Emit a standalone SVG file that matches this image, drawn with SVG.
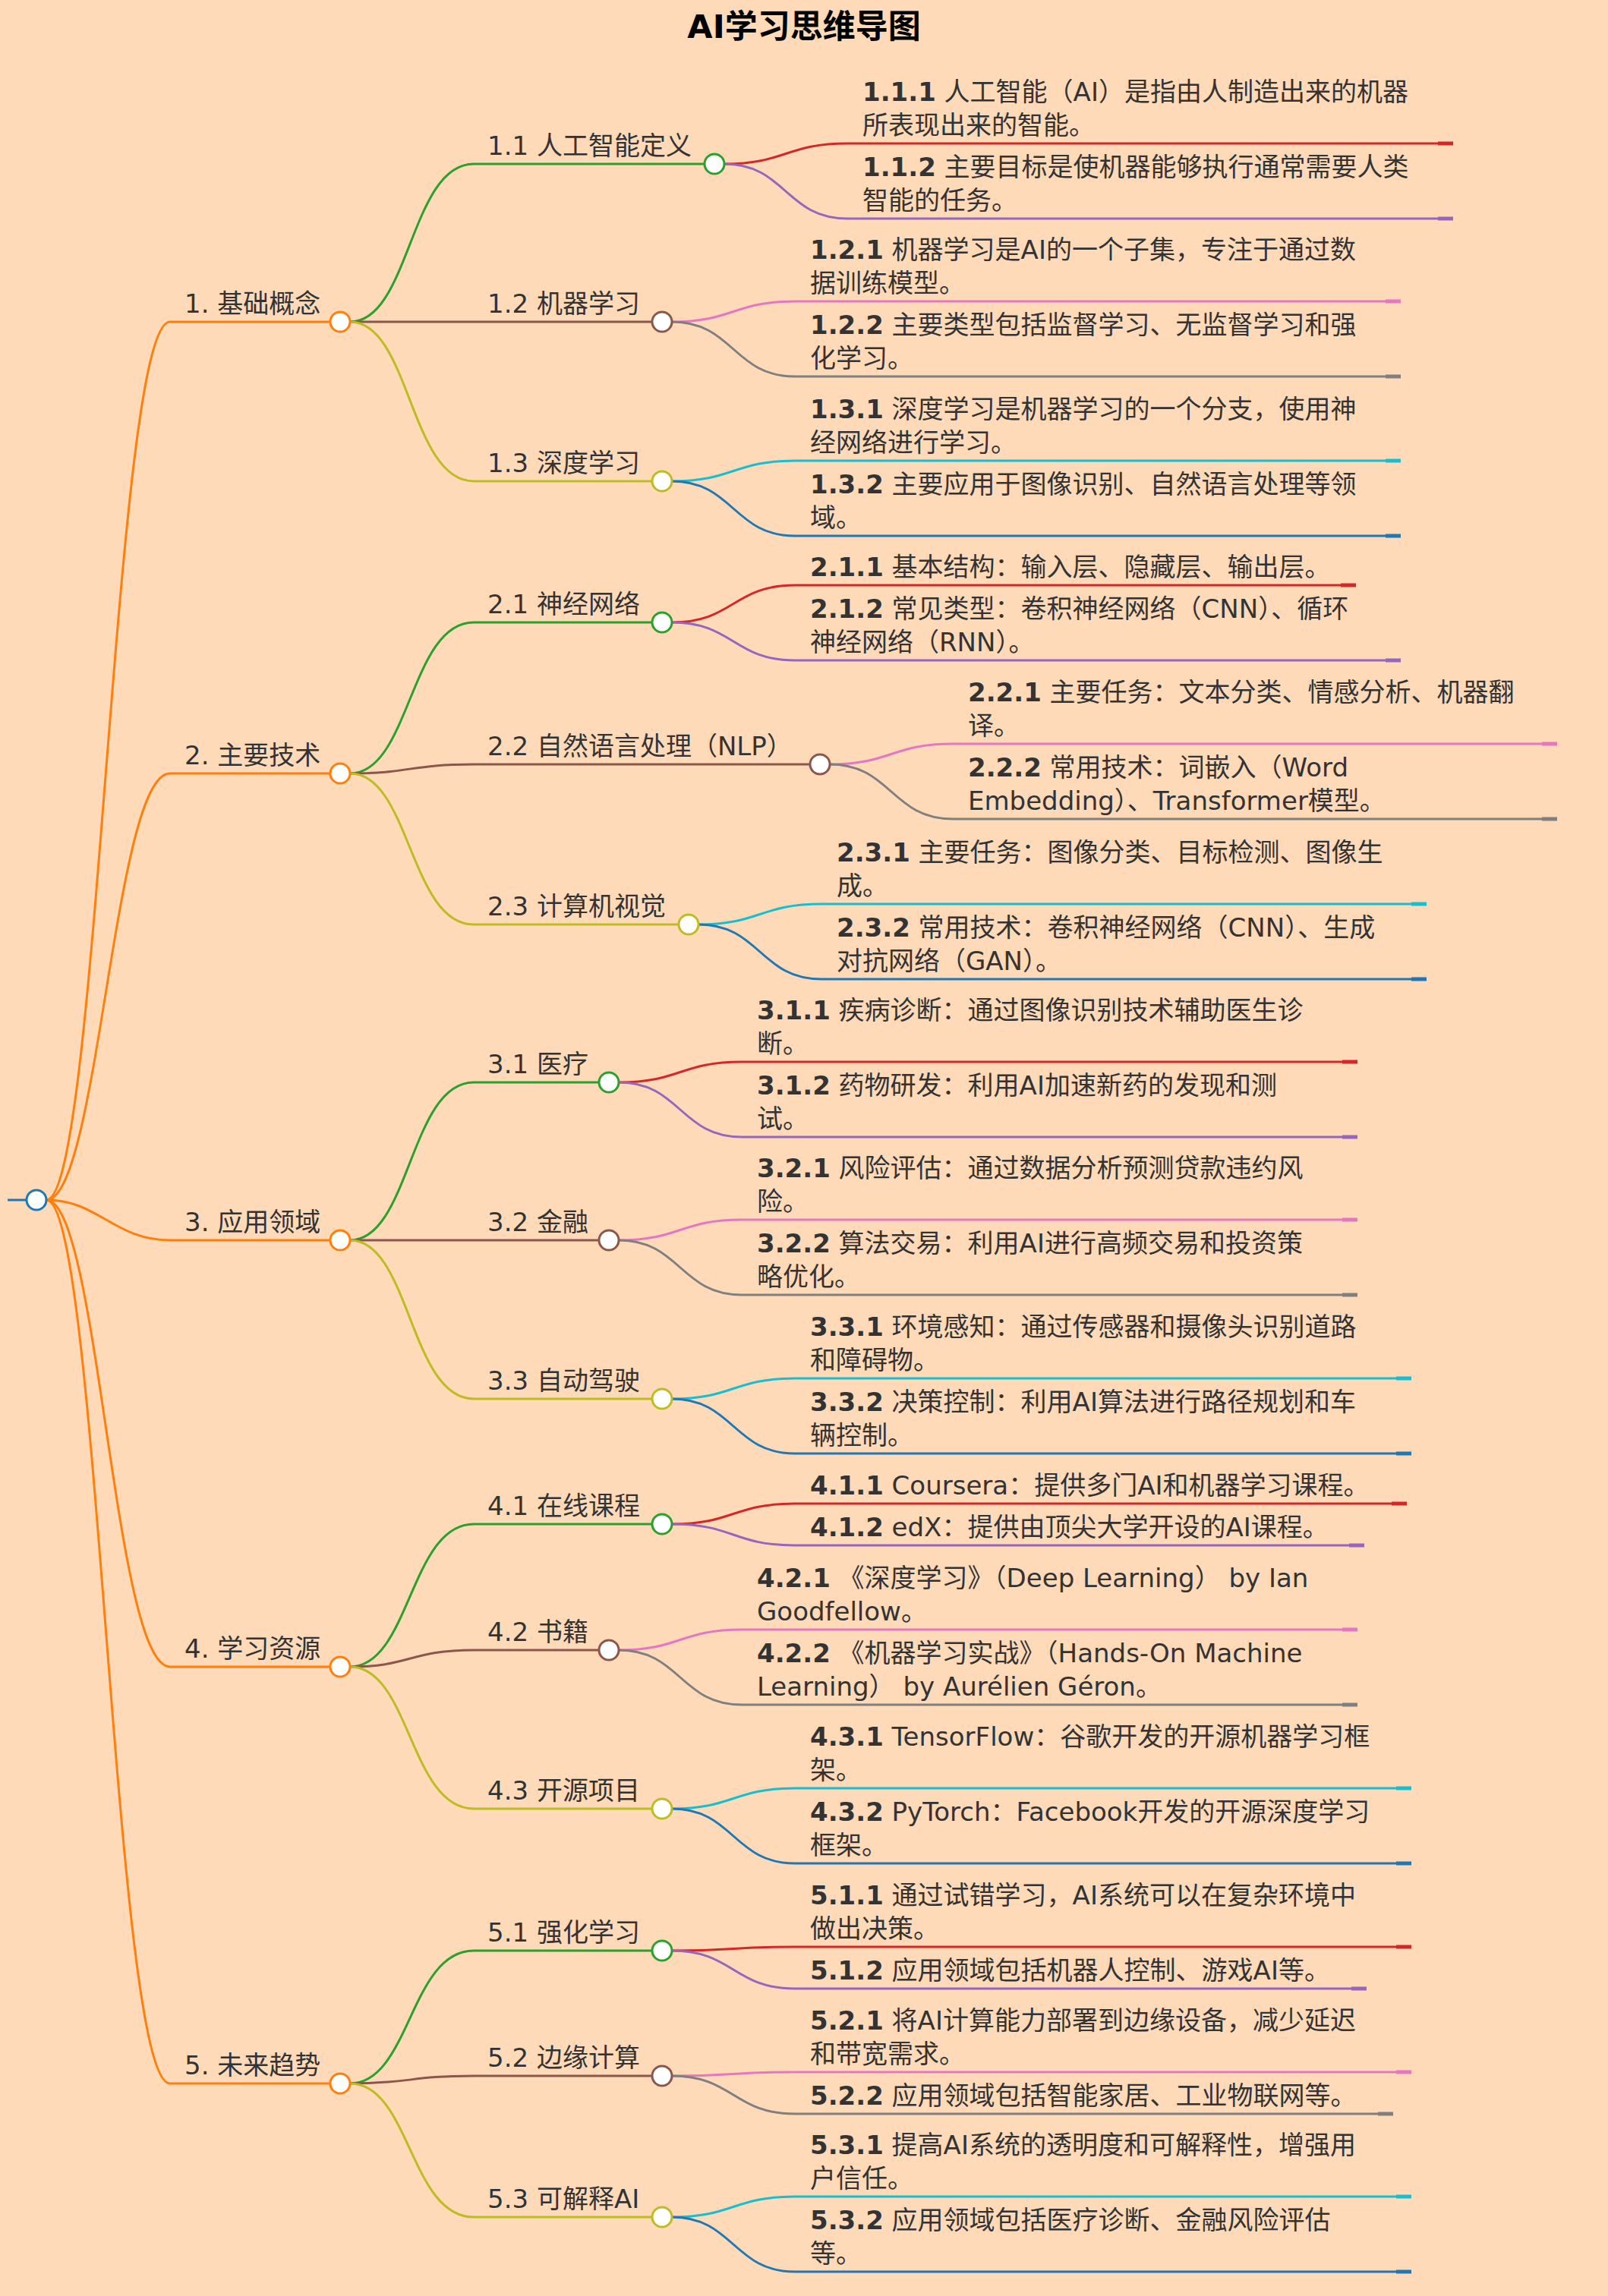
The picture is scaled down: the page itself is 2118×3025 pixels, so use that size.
<svg xmlns="http://www.w3.org/2000/svg" width="2118" height="3025" viewBox="0 0 2118 3025">
<style>
text{font-family:"DejaVu Sans","Noto Sans CJK SC",sans-serif;fill:#333;font-size:34px}
.b{font-weight:bold}
.t{font-size:43px;font-weight:bold;fill:#000}
path,line{fill:none;stroke-width:3}
circle{fill:#fff;stroke-width:3}
.e{stroke-width:5}
.or{stroke:#ff7f0e}.gr{stroke:#2ca02c}.br{stroke:#8c564b}.ol{stroke:#bcbd22}
.rd{stroke:#d62728}.pu{stroke:#9467bd}.pk{stroke:#e377c2}.gy{stroke:#7f7f7f}.cy{stroke:#17becf}.bl{stroke:#1f77b4}
</style>
<rect width="2118" height="3025" fill="#ffdab9"/>
<text class="t" x="1059" y="50" text-anchor="middle">AI学习思维导图</text>
<g id="connectors">
<line class="bl" x1="10" y1="1581" x2="35" y2="1581"/>
<path class="or" d="M61,1581 C130,1581 150,424 224,424 L435,424"/>
<path class="or" d="M61,1581 C130,1581 150,1019 224,1019 L435,1019"/>
<path class="or" d="M61,1581 C130,1581 150,1634 224,1634 L435,1634"/>
<path class="or" d="M61,1581 C130,1581 150,2196 224,2196 L435,2196"/>
<path class="or" d="M61,1581 C130,1581 150,2745 224,2745 L435,2745"/>
<path class="gr" d="M461,424 C540,424 540,216 624,216 L928,216"/>
<path class="br" d="M461,424 C540,424 540,424 624,424 L859,424"/>
<path class="ol" d="M461,424 C540,424 540,634 624,634 L859,634"/>
<path class="gr" d="M461,1019 C540,1019 540,820 624,820 L859,820"/>
<path class="br" d="M461,1019 C540,1019 540,1007 624,1007 L1067,1007"/>
<path class="ol" d="M461,1019 C540,1019 540,1218 624,1218 L894,1218"/>
<path class="gr" d="M461,1634 C540,1634 540,1426 624,1426 L789,1426"/>
<path class="br" d="M461,1634 C540,1634 540,1634 624,1634 L789,1634"/>
<path class="ol" d="M461,1634 C540,1634 540,1843 624,1843 L859,1843"/>
<path class="gr" d="M461,2196 C540,2196 540,2008 624,2008 L859,2008"/>
<path class="br" d="M461,2196 C540,2196 540,2174 624,2174 L789,2174"/>
<path class="ol" d="M461,2196 C540,2196 540,2383 624,2383 L859,2383"/>
<path class="gr" d="M461,2745 C540,2745 540,2570 624,2570 L859,2570"/>
<path class="br" d="M461,2745 C540,2745 540,2735 624,2735 L859,2735"/>
<path class="ol" d="M461,2745 C540,2745 540,2921 624,2921 L859,2921"/>
<!-- level3 -->
<path class="rd" d="M954,216 C1035,216 1035,189 1116,189 L1914,189"/><line class="rd e" x1="1894" y1="189" x2="1914" y2="189"/>
<path class="pu" d="M954,216 C1035,216 1035,288 1116,288 L1914,288"/><line class="pu e" x1="1894" y1="288" x2="1914" y2="288"/>
<path class="pk" d="M885,424 C966,424 966,397 1047,397 L1845,397"/><line class="pk e" x1="1825" y1="397" x2="1845" y2="397"/>
<path class="gy" d="M885,424 C966,424 966,496 1047,496 L1845,496"/><line class="gy e" x1="1825" y1="496" x2="1845" y2="496"/>
<path class="cy" d="M885,634 C966,634 966,607 1047,607 L1845,607"/><line class="cy e" x1="1825" y1="607" x2="1845" y2="607"/>
<path class="bl" d="M885,634 C966,634 966,706 1047,706 L1845,706"/><line class="bl e" x1="1825" y1="706" x2="1845" y2="706"/>
<path class="rd" d="M885,820 C966,820 966,771 1047,771 L1786,771"/><line class="rd e" x1="1766" y1="771" x2="1786" y2="771"/>
<path class="pu" d="M885,820 C966,820 966,870 1047,870 L1845,870"/><line class="pu e" x1="1825" y1="870" x2="1845" y2="870"/>
<path class="pk" d="M1093,1007 C1174,1007 1174,980 1255,980 L2051,980"/><line class="pk e" x1="2031" y1="980" x2="2051" y2="980"/>
<path class="gy" d="M1093,1007 C1174,1007 1174,1079 1255,1079 L2051,1079"/><line class="gy e" x1="2031" y1="1079" x2="2051" y2="1079"/>
<path class="cy" d="M920,1218 C1001,1218 1001,1191 1082,1191 L1879,1191"/><line class="cy e" x1="1859" y1="1191" x2="1879" y2="1191"/>
<path class="bl" d="M920,1218 C1001,1218 1001,1290 1082,1290 L1879,1290"/><line class="bl e" x1="1859" y1="1290" x2="1879" y2="1290"/>
<path class="rd" d="M815,1426 C896,1426 896,1399 977,1399 L1788,1399"/><line class="rd e" x1="1768" y1="1399" x2="1788" y2="1399"/>
<path class="pu" d="M815,1426 C896,1426 896,1498 977,1498 L1788,1498"/><line class="pu e" x1="1768" y1="1498" x2="1788" y2="1498"/>
<path class="pk" d="M815,1634 C896,1634 896,1607 977,1607 L1788,1607"/><line class="pk e" x1="1768" y1="1607" x2="1788" y2="1607"/>
<path class="gy" d="M815,1634 C896,1634 896,1706 977,1706 L1788,1706"/><line class="gy e" x1="1768" y1="1706" x2="1788" y2="1706"/>
<path class="cy" d="M885,1843 C966,1843 966,1816 1047,1816 L1859,1816"/><line class="cy e" x1="1839" y1="1816" x2="1859" y2="1816"/>
<path class="bl" d="M885,1843 C966,1843 966,1915 1047,1915 L1859,1915"/><line class="bl e" x1="1839" y1="1915" x2="1859" y2="1915"/>
<path class="rd" d="M885,2008 C966,2008 966,1981 1047,1981 L1853,1981"/><line class="rd e" x1="1833" y1="1981" x2="1853" y2="1981"/>
<path class="pu" d="M885,2008 C966,2008 966,2036 1047,2036 L1797,2036"/><line class="pu e" x1="1777" y1="2036" x2="1797" y2="2036"/>
<path class="pk" d="M815,2174 C896,2174 896,2147 977,2147 L1788,2147"/><line class="pk e" x1="1768" y1="2147" x2="1788" y2="2147"/>
<path class="gy" d="M815,2174 C896,2174 896,2246 977,2246 L1788,2246"/><line class="gy e" x1="1768" y1="2246" x2="1788" y2="2246"/>
<path class="cy" d="M885,2383 C966,2383 966,2356 1047,2356 L1859,2356"/><line class="cy e" x1="1839" y1="2356" x2="1859" y2="2356"/>
<path class="bl" d="M885,2383 C966,2383 966,2455 1047,2455 L1859,2455"/><line class="bl e" x1="1839" y1="2455" x2="1859" y2="2455"/>
<path class="rd" d="M885,2570 C966,2570 966,2565 1047,2565 L1859,2565"/><line class="rd e" x1="1839" y1="2565" x2="1859" y2="2565"/>
<path class="pu" d="M885,2570 C966,2570 966,2620 1047,2620 L1800,2620"/><line class="pu e" x1="1780" y1="2620" x2="1800" y2="2620"/>
<path class="pk" d="M885,2735 C966,2735 966,2730 1047,2730 L1859,2730"/><line class="pk e" x1="1839" y1="2730" x2="1859" y2="2730"/>
<path class="gy" d="M885,2735 C966,2735 966,2785 1047,2785 L1835,2785"/><line class="gy e" x1="1815" y1="2785" x2="1835" y2="2785"/>
<path class="cy" d="M885,2921 C966,2921 966,2894 1047,2894 L1859,2894"/><line class="cy e" x1="1839" y1="2894" x2="1859" y2="2894"/>
<path class="bl" d="M885,2921 C966,2921 966,2993 1047,2993 L1859,2993"/><line class="bl e" x1="1839" y1="2993" x2="1859" y2="2993"/>
</g>
<g id="root"><circle class="bl" cx="48" cy="1581" r="13"/></g>
<g id="n1"><text x="243" y="412">1. 基础概念</text><circle class="or" cx="448" cy="424" r="13"/></g>
<g id="n2"><text x="243" y="1007">2. 主要技术</text><circle class="or" cx="448" cy="1019" r="13"/></g>
<g id="n3"><text x="243" y="1622">3. 应用领域</text><circle class="or" cx="448" cy="1634" r="13"/></g>
<g id="n4"><text x="243" y="2184">4. 学习资源</text><circle class="or" cx="448" cy="2196" r="13"/></g>
<g id="n5"><text x="243" y="2733">5. 未来趋势</text><circle class="or" cx="448" cy="2745" r="13"/></g>
<g id="n1-1"><text x="642" y="204">1.1 人工智能定义</text><circle class="gr" cx="941" cy="216" r="13"/></g>
<g id="n1-2"><text x="642" y="412">1.2 机器学习</text><circle class="br" cx="872" cy="424" r="13"/></g>
<g id="n1-3"><text x="642" y="622">1.3 深度学习</text><circle class="ol" cx="872" cy="634" r="13"/></g>
<g id="n2-1"><text x="642" y="808">2.1 神经网络</text><circle class="gr" cx="872" cy="820" r="13"/></g>
<g id="n2-2"><text x="642" y="995">2.2 自然语言处理（NLP）</text><circle class="br" cx="1080" cy="1007" r="13"/></g>
<g id="n2-3"><text x="642" y="1206">2.3 计算机视觉</text><circle class="ol" cx="907" cy="1218" r="13"/></g>
<g id="n3-1"><text x="642" y="1414">3.1 医疗</text><circle class="gr" cx="802" cy="1426" r="13"/></g>
<g id="n3-2"><text x="642" y="1622">3.2 金融</text><circle class="br" cx="802" cy="1634" r="13"/></g>
<g id="n3-3"><text x="642" y="1831">3.3 自动驾驶</text><circle class="ol" cx="872" cy="1843" r="13"/></g>
<g id="n4-1"><text x="642" y="1996">4.1 在线课程</text><circle class="gr" cx="872" cy="2008" r="13"/></g>
<g id="n4-2"><text x="642" y="2162">4.2 书籍</text><circle class="br" cx="802" cy="2174" r="13"/></g>
<g id="n4-3"><text x="642" y="2371">4.3 开源项目</text><circle class="ol" cx="872" cy="2383" r="13"/></g>
<g id="n5-1"><text x="642" y="2558">5.1 强化学习</text><circle class="gr" cx="872" cy="2570" r="13"/></g>
<g id="n5-2"><text x="642" y="2723">5.2 边缘计算</text><circle class="br" cx="872" cy="2735" r="13"/></g>
<g id="n5-3"><text x="642" y="2909">5.3 可解释AI</text><circle class="ol" cx="872" cy="2921" r="13"/></g>
<g id="leaves">
<g id="n1-1-1"><text x="1136" y="133"><tspan class="b">1.1.1</tspan> 人工智能（AI）是指由人制造出来的机器</text><text x="1136" y="177">所表现出来的智能。</text></g>
<g id="n1-1-2"><text x="1136" y="232"><tspan class="b">1.1.2</tspan> 主要目标是使机器能够执行通常需要人类</text><text x="1136" y="276">智能的任务。</text></g>
<g id="n1-2-1"><text x="1067" y="341"><tspan class="b">1.2.1</tspan> 机器学习是AI的一个子集，专注于通过数</text><text x="1067" y="385">据训练模型。</text></g>
<g id="n1-2-2"><text x="1067" y="440"><tspan class="b">1.2.2</tspan> 主要类型包括监督学习、无监督学习和强</text><text x="1067" y="484">化学习。</text></g>
<g id="n1-3-1"><text x="1067" y="551"><tspan class="b">1.3.1</tspan> 深度学习是机器学习的一个分支，使用神</text><text x="1067" y="595">经网络进行学习。</text></g>
<g id="n1-3-2"><text x="1067" y="650"><tspan class="b">1.3.2</tspan> 主要应用于图像识别、自然语言处理等领</text><text x="1067" y="694">域。</text></g>
<g id="n2-1-1"><text x="1067" y="759"><tspan class="b">2.1.1</tspan> 基本结构：输入层、隐藏层、输出层。</text></g>
<g id="n2-1-2"><text x="1067" y="814"><tspan class="b">2.1.2</tspan> 常见类型：卷积神经网络（CNN）、循环</text><text x="1067" y="858">神经网络（RNN）。</text></g>
<g id="n2-2-1"><text x="1275" y="924"><tspan class="b">2.2.1</tspan> 主要任务：文本分类、情感分析、机器翻</text><text x="1275" y="968">译。</text></g>
<g id="n2-2-2"><text x="1275" y="1023"><tspan class="b">2.2.2</tspan> 常用技术：词嵌入（Word</text><text x="1275" y="1067">Embedding）、Transformer模型。</text></g>
<g id="n2-3-1"><text x="1102" y="1135"><tspan class="b">2.3.1</tspan> 主要任务：图像分类、目标检测、图像生</text><text x="1102" y="1179">成。</text></g>
<g id="n2-3-2"><text x="1102" y="1234"><tspan class="b">2.3.2</tspan> 常用技术：卷积神经网络（CNN）、生成</text><text x="1102" y="1278">对抗网络（GAN）。</text></g>
<g id="n3-1-1"><text x="997" y="1343"><tspan class="b">3.1.1</tspan> 疾病诊断：通过图像识别技术辅助医生诊</text><text x="997" y="1387">断。</text></g>
<g id="n3-1-2"><text x="997" y="1442"><tspan class="b">3.1.2</tspan> 药物研发：利用AI加速新药的发现和测</text><text x="997" y="1486">试。</text></g>
<g id="n3-2-1"><text x="997" y="1551"><tspan class="b">3.2.1</tspan> 风险评估：通过数据分析预测贷款违约风</text><text x="997" y="1595">险。</text></g>
<g id="n3-2-2"><text x="997" y="1650"><tspan class="b">3.2.2</tspan> 算法交易：利用AI进行高频交易和投资策</text><text x="997" y="1694">略优化。</text></g>
<g id="n3-3-1"><text x="1067" y="1760"><tspan class="b">3.3.1</tspan> 环境感知：通过传感器和摄像头识别道路</text><text x="1067" y="1804">和障碍物。</text></g>
<g id="n3-3-2"><text x="1067" y="1859"><tspan class="b">3.3.2</tspan> 决策控制：利用AI算法进行路径规划和车</text><text x="1067" y="1903">辆控制。</text></g>
<g id="n4-1-1"><text x="1067" y="1969"><tspan class="b">4.1.1</tspan> Coursera：提供多门AI和机器学习课程。</text></g>
<g id="n4-1-2"><text x="1067" y="2024"><tspan class="b">4.1.2</tspan> edX：提供由顶尖大学开设的AI课程。</text></g>
<g id="n4-2-1"><text x="997" y="2091"><tspan class="b">4.2.1</tspan> 《深度学习》（Deep Learning） by Ian</text><text x="997" y="2135">Goodfellow。</text></g>
<g id="n4-2-2"><text x="997" y="2190"><tspan class="b">4.2.2</tspan> 《机器学习实战》（Hands-On Machine</text><text x="997" y="2234">Learning） by Aurélien Géron。</text></g>
<g id="n4-3-1"><text x="1067" y="2300"><tspan class="b">4.3.1</tspan> TensorFlow：谷歌开发的开源机器学习框</text><text x="1067" y="2344">架。</text></g>
<g id="n4-3-2"><text x="1067" y="2399"><tspan class="b">4.3.2</tspan> PyTorch：Facebook开发的开源深度学习</text><text x="1067" y="2443">框架。</text></g>
<g id="n5-1-1"><text x="1067" y="2509"><tspan class="b">5.1.1</tspan> 通过试错学习，AI系统可以在复杂环境中</text><text x="1067" y="2553">做出决策。</text></g>
<g id="n5-1-2"><text x="1067" y="2608"><tspan class="b">5.1.2</tspan> 应用领域包括机器人控制、游戏AI等。</text></g>
<g id="n5-2-1"><text x="1067" y="2674"><tspan class="b">5.2.1</tspan> 将AI计算能力部署到边缘设备，减少延迟</text><text x="1067" y="2718">和带宽需求。</text></g>
<g id="n5-2-2"><text x="1067" y="2773"><tspan class="b">5.2.2</tspan> 应用领域包括智能家居、工业物联网等。</text></g>
<g id="n5-3-1"><text x="1067" y="2838"><tspan class="b">5.3.1</tspan> 提高AI系统的透明度和可解释性，增强用</text><text x="1067" y="2882">户信任。</text></g>
<g id="n5-3-2"><text x="1067" y="2937"><tspan class="b">5.3.2</tspan> 应用领域包括医疗诊断、金融风险评估</text><text x="1067" y="2981">等。</text></g>
</g>
</svg>
